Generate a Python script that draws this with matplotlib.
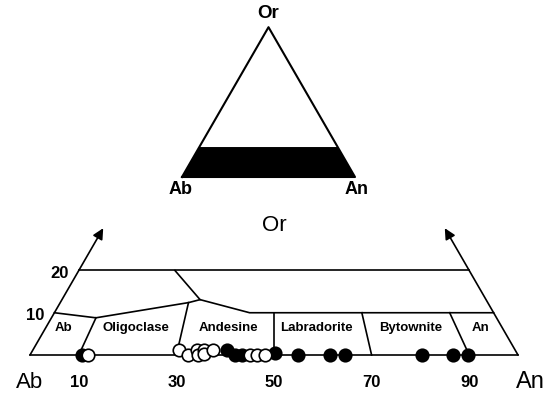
import numpy as np
import matplotlib
matplotlib.use("Agg")
import matplotlib.pyplot as plt

# Data (An %, Or %)

# upper boundary of the plagioclase fields
curve_an = [0, 9.1, 26.3, 28.3, 40, 90]
curve_or = [10, 8.8, 12.4, 13.1, 10, 10]

# short line from the Or=20 line down to the curve
upper_an = [19.7, 28.3]
upper_or = [20, 13.1]

# field boundaries start at these An values, run towards Or
boundary_an = [10, 30, 50, 70, 90]
boundary_top_or = [8.8, 12.4, 10, 10, 10]

field_names = ["Ab", "Oligoclase", "Andesine", "Labradorite", "Bytownite", "An"]
field_an = [3.7, 18.6, 37.5, 55.5, 74.8, 89.1]

tick_values = [10, 30, 50, 70, 90]
or_levels = [10, 20]

# analyses
black_an = [10.7, 39.8, 42.0, 43.4, 50.0, 54.9, 61.5, 64.5, 80.3, 86.7, 89.8]
black_or = [0, 1.2, 0, 0, 0.5, 0, 0, 0, 0, 0, 0]
white_an = [11.9, 29.9, 32.4, 33.6, 34.4, 35.1, 35.6, 36.9, 45.0, 46.5, 48.2]
white_or = [0, 1.2, 0, 1.2, 0, 1.3, 0.3, 1.2, 0, 0, 0]


def tern(an, orr):
    # ternary Ab-An-Or to cartesian, Ab at origin
    an = np.asarray(an, dtype=float)
    orr = np.asarray(orr, dtype=float)
    return an + orr / 2, orr * np.sqrt(3) / 2


plt.rcParams['font.family'] = ['Liberation Sans', 'DejaVu Sans']

W, H = 552, 396
fig = plt.figure(figsize=(W / 100, H / 100), dpi=100)

# lower diagram: Ab at pixel (30, 355), 4.88 px per %
ax = fig.add_axes([0, 0, 1, 1])
ox, oy, s = 30, 355, 4.88
ax.set_xlim(-ox / s, (W - ox) / s)
ax.set_ylim(-(H - oy) / s, oy / s)
ax.axis('off')

lw = 1.2

# base line
x, y = tern([0, 100], [0, 0])
ax.plot(x, y, color='k', lw=lw)

# side edges with arrows
for start, tip in [((0, 0), (0, 30)), ((100, 0), (70, 30))]:
    ax.annotate('', xy=tern(*tip), xytext=tern(*start),
                arrowprops=dict(arrowstyle='-|>', color='k', lw=lw,
                                mutation_scale=16, shrinkA=0, shrinkB=0))

# Or = 20 line
x, y = tern([0, 80], [20, 20])
ax.plot(x, y, color='k', lw=lw)

# field boundaries
x, y = tern(curve_an, curve_or)
ax.plot(x, y, color='k', lw=lw)
x, y = tern(upper_an, upper_or)
ax.plot(x, y, color='k', lw=lw)
for a, top in zip(boundary_an, boundary_top_or):
    x, y = tern([a, a * (1 - top / 100)], [0, top])
    ax.plot(x, y, color='k', lw=lw)

# field names
for name, a in zip(field_names, field_an):
    x, y = tern(a, 6.4)
    ax.text(x, y, name, ha='center', va='center', fontsize=9.5, weight='bold')

# points
x, y = tern(black_an, black_or)
ax.plot(x, y, 'o', ms=9, mfc='k', mec='k', mew=1.2, zorder=3, clip_on=False)
x, y = tern(white_an, white_or)
ax.plot(x, y, 'o', ms=9, mfc='white', mec='k', mew=1.2, zorder=4, clip_on=False)

# axis labels
for v in tick_values:
    ax.text(v, -5.7, str(v), ha='center', va='center', fontsize=12, weight='bold')
ax.text(0, -5.7, "Ab", ha='center', va='center', fontsize=16)
ax.text(102.5, -5.6, "An", ha='center', va='center', fontsize=17)
ax.text(50.0, 26.5, "Or", ha='center', va='center', fontsize=16)
for lev in or_levels:
    x, y = tern(0, lev)
    ax.annotate(str(lev), (x, y), xytext=(-7, -2), textcoords='offset points',
                ha='right', va='center', fontsize=12, weight='bold')

# small triangle on top: Ab at pixel (182, 177), 1.73 px per %
ax2 = fig.add_axes([0, 0, 1, 1])
ox2, oy2, s2 = 182, 177, 1.73
ax2.set_xlim(-ox2 / s2, (W - ox2) / s2)
ax2.set_ylim(-(H - oy2) / s2, oy2 / s2)
ax2.axis('off')
ax2.patch.set_alpha(0)

x, y = tern([0, 100, 80, 0], [0, 0, 20, 20])
ax2.fill(x, y, color='k', lw=0)
x, y = tern([0, 100, 0, 0], [0, 0, 100, 0])
ax2.plot(x, y, color='k', lw=1.5)

ax2.text(50, 94.5, "Or", ha='center', va='center', fontsize=13.5, weight='bold')
ax2.text(-1, -7, "Ab", ha='center', va='center', fontsize=13, weight='bold')
ax2.text(101, -7, "An", ha='center', va='center', fontsize=13, weight='bold')

fig.savefig("out.png", dpi=100)
